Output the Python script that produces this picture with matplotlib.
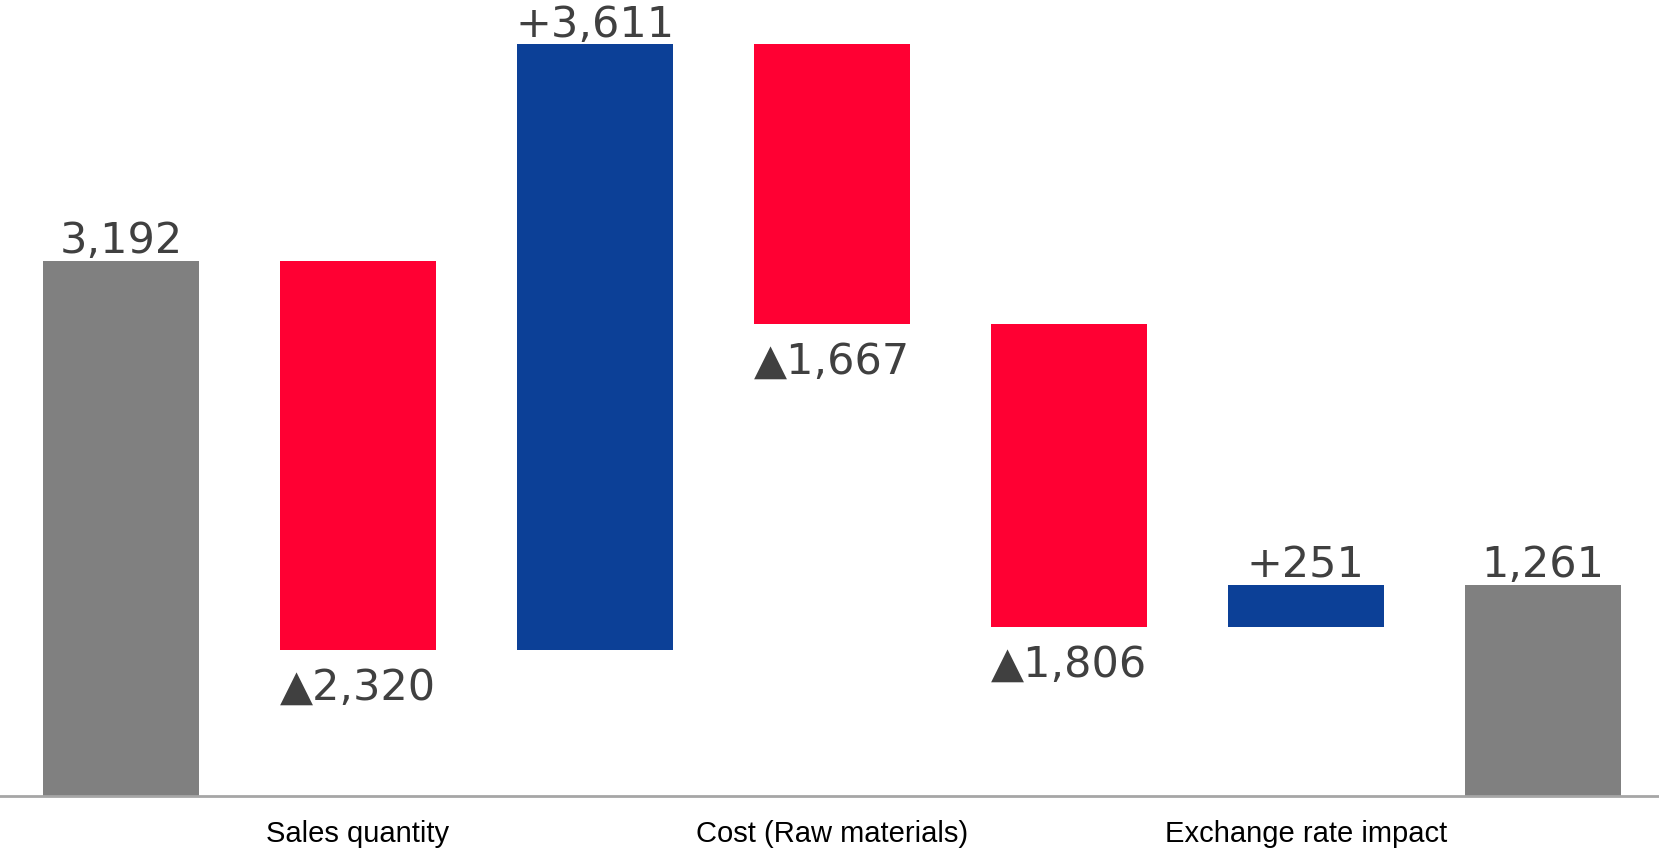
import matplotlib
matplotlib.use("Agg")
import matplotlib.pyplot as plt

# waterfall: opening value, changes, closing value
categories = ["", "Sales quantity", "", "Cost (Raw materials)", "", "Exchange rate impact", ""]
start_value = 3192
changes = [-2320, 3611, -1667, -1806, 251]
end_value = 1261

GRAY = "#808080"
RED = "#FF0033"
BLUE = "#0C4097"
TEXT = "#404040"

fig = plt.figure(figsize=(16.59, 8.49), dpi=100)
ax = fig.add_axes([0, 53 / 849, 1, 796 / 849])

x = list(range(len(categories)))
width = 0.66
label_kw = dict(ha="center", fontsize=31, color=TEXT, family="DejaVu Sans")

# totals
ax.bar(x[0], start_value, width=width, color=GRAY)
ax.text(x[0], start_value + 44, f"{start_value:,}", va="baseline", **label_kw)

running = start_value
for i, delta in enumerate(changes, start=1):
    bottom = running if delta > 0 else running + delta
    color = BLUE if delta > 0 else RED
    ax.bar(x[i], abs(delta), bottom=bottom, width=width, color=color)
    if delta > 0:
        ax.text(x[i], running + delta + 44, f"+{delta:,}", va="baseline", **label_kw)
    else:
        ax.text(x[i], running + delta - 100, f"\u25b2{abs(delta):,}", va="top", **label_kw)
    running += delta

ax.bar(x[-1], end_value, width=width, color=GRAY)
ax.text(x[-1], end_value + 44, f"{end_value:,}", va="baseline", **label_kw)

ax.set_xlim(-0.51, 6.49)
ax.set_ylim(0, 796 / 0.1677)

ax.set_xticks(x)
ax.set_xticklabels(categories, fontsize=21, family="Liberation Sans", color="black")
ax.tick_params(axis="x", length=0, pad=17)
ax.set_yticks([])

for side in ["top", "right", "left"]:
    ax.spines[side].set_visible(False)
ax.spines["bottom"].set_color("#A6A6A6")
ax.spines["bottom"].set_linewidth(2)

fig.savefig("out.png", dpi=100)
